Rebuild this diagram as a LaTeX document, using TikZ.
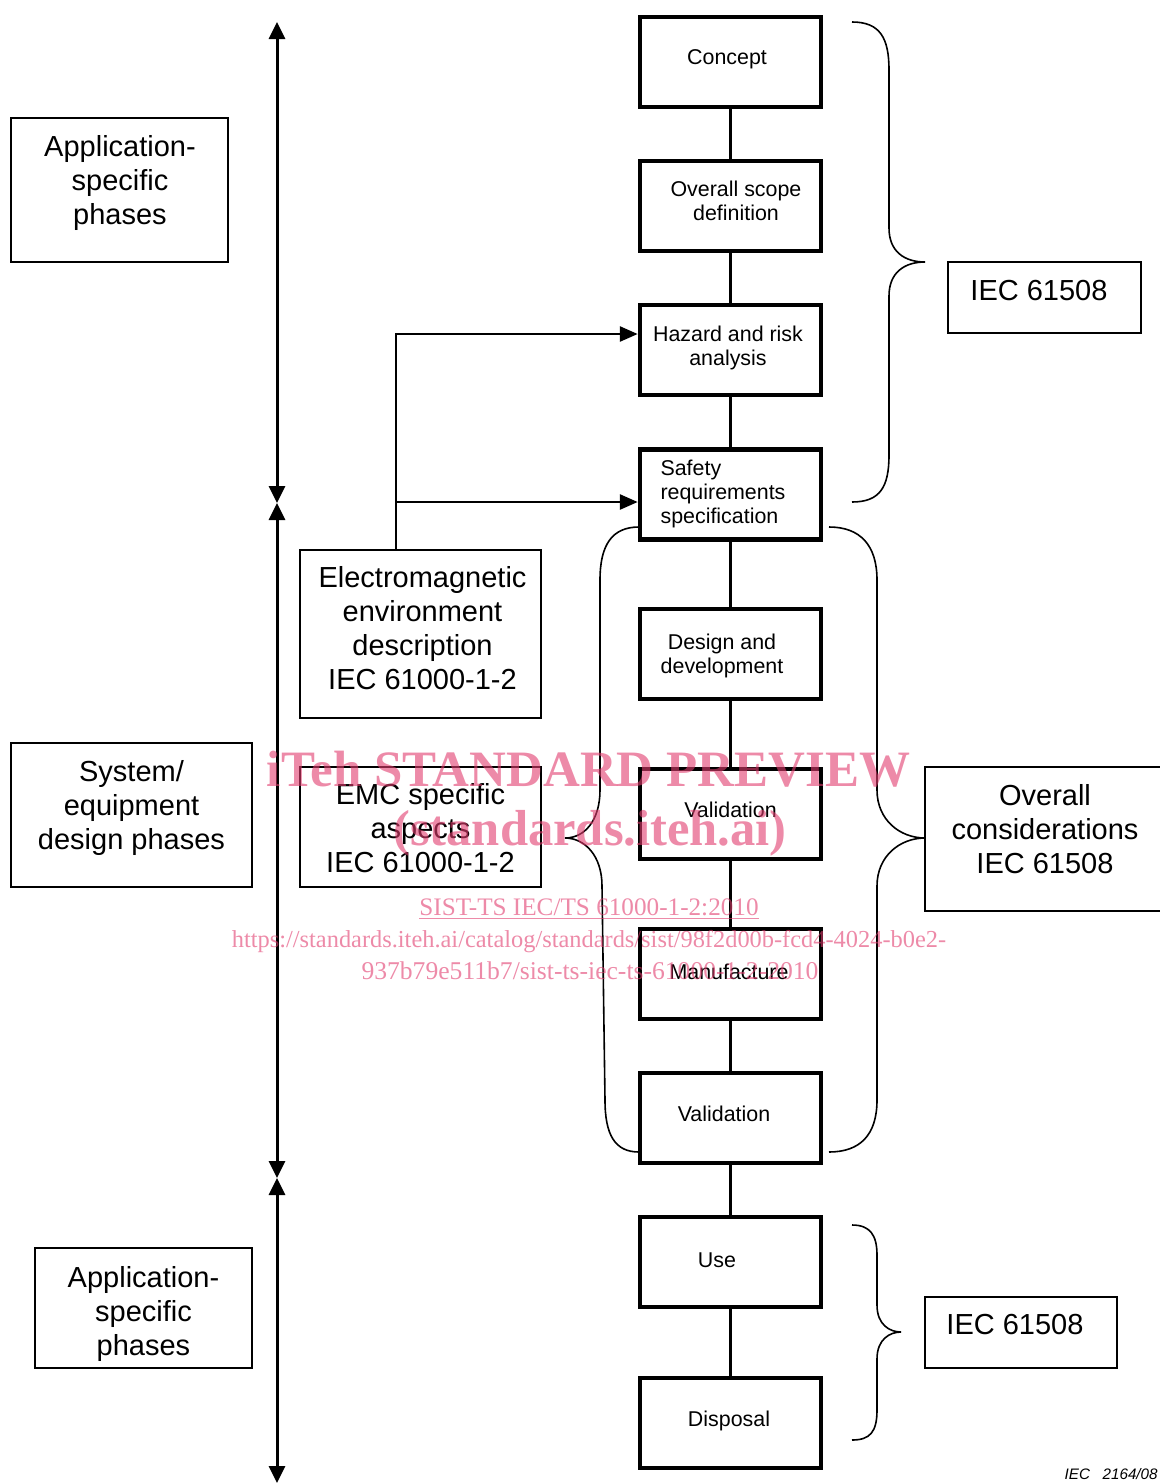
\documentclass[tikz,border=0pt]{standalone}
\usepackage{fontspec}
\setmainfont{Liberation Sans}
\newfontfamily\wmfont{Liberation Serif}
\usetikzlibrary{arrows.meta,calc}
\definecolor{wmpink}{RGB}{225,60,110}
\begin{document}
\begin{tikzpicture}[x=0.5pt,y=-0.5pt,
  phasebox/.style={draw, line width=2.25pt, minimum width=90.5pt, minimum height=45pt, inner sep=0pt},
  ptext/.style={inner sep=0pt, align=center, font=\fontsize{10.7}{12}\selectfont},
  infobox/.style={draw, line width=0.7pt, inner sep=0pt},
  itext/.style={inner sep=0pt, align=center, font=\fontsize{14.5}{17}\selectfont},
  link/.style={line width=1.1pt},
  axis/.style={line width=1.5pt, {Triangle[length=8.5pt,width=8pt]}-{Triangle[length=8.5pt,width=8pt]}},
  feed/.style={line width=1.4pt, -{Triangle[length=9pt,width=7.5pt]}},
  brace/.style={line width=0.8pt},
  wm/.style={text=wmpink, text opacity=0.6, inner sep=0pt, anchor=base}
]
\useasboundingbox (0,0) rectangle (1160,1483);

% left axis
\coordinate (t1) at (277,22);
\coordinate (t2) at (277,503);
\coordinate (t3) at (277,1178);
\coordinate (t4) at (277,1483);
\draw[axis] (t2) -- (t1);
\draw[axis] (t2) -- (t3);
\draw[axis] (t3) -- (t4);

% phase boxes
\node[phasebox] (concept) at (730.5,62) {};
\node[phasebox] (scope) at (730.5,206) {};
\node[phasebox] (hazard) at (730.5,350) {};
\node[phasebox] (safety) at (730.5,494.5) {};
\node[phasebox] (design) at (730.5,654) {};
\node[phasebox] (valid1) at (730.5,814) {};
\node[phasebox] (manuf) at (730.5,974) {};
\node[phasebox] (valid2) at (730.5,1118) {};
\node[phasebox] (use) at (730.5,1262) {};
\node[phasebox] (disposal) at (730.5,1423) {};

\node[ptext] (conceptt) at (727,59) {Concept};
\node[ptext] (scopet) at (736,201) {Overall scope\\definition};
\node[ptext] (hazardt) at (728,348) {Hazard and risk\\analysis};
\node[ptext, align=left] (safetyt) at (723,493.5) {Safety\\requirements\\specification};
\node[ptext] (designt) at (722,656) {Design and\\development};
\node[ptext] (valid1t) at (730.5,810) {Validation};
\node[ptext] (manuft) at (729,972) {Manufacture};
\node[ptext] (valid2t) at (724,1114) {Validation};
\node[ptext] (uset) at (717,1260) {Use};
\node[ptext] (disposalt) at (729,1421) {Disposal};

\draw[link] (concept) -- (scope);
\draw[link] (scope) -- (hazard);
\draw[link] (hazard) -- (safety);
\draw[link] (safety) -- (design);
\draw[link] (design) -- (valid1);
\draw[link] (valid1) -- (manuf);
\draw[link] (manuf) -- (valid2);
\draw[link] (valid2) -- (use);
\draw[link] (use) -- (disposal);

% left boxes
\node[infobox, minimum width=108.5pt, minimum height=72pt] (app1) at (119.5,190) {};
\node[itext] (app1t) at (120,183) {Application-\\specific\\phases};
\node[infobox, minimum width=120.5pt, minimum height=72pt] (sys) at (131.5,815) {};
\node[itext] (syst) at (131.5,808) {System/\\equipment\\design phases};
\node[infobox, minimum width=108.5pt, minimum height=60pt] (app2) at (143.5,1308) {};
\node[itext] (app2t) at (143.5,1314) {Application-\\specific\\phases};

% EM boxes
\node[infobox, minimum width=120.5pt, minimum height=84pt] (em) at (420.5,634) {};
\node[itext] (emt) at (422.5,628) {Electromagnetic\\environment\\description\\IEC 61000-1-2};
\node[infobox, minimum width=120.5pt, minimum height=60pt] (emc) at (420.5,827) {};
\node[itext] (emct) at (420.5,828) {EMC specific\\aspects\\IEC 61000-1-2};

\coordinate (emtop) at (396,550);
\coordinate (br) at (396,502);
\draw[feed] (emtop) |- ([yshift=8pt]hazard.west);
\draw[feed] (br) -- (br -| safety.west);

% right boxes
\node[infobox, minimum width=96.5pt, minimum height=35.5pt] (iec1) at (1044.5,297.5) {};
\node[itext] (iec1t) at (1039,290.5) {IEC 61508};
\node[infobox, minimum width=120pt, minimum height=72pt] (overall) at (1045,839) {};
\node[itext] (overallt) at (1045,829) {Overall\\considerations\\IEC 61508};
\node[infobox, minimum width=96pt, minimum height=35.5pt] (iec2) at (1021,1332.5) {};
\node[itext] (iec2t) at (1015,1324.5) {IEC 61508};

% braces
\draw[brace] (852,22) .. controls (880,22) and (889,38) .. (889,70) -- (889,228) .. controls (889,252) and (905,262) .. (925,262) .. controls (905,262) and (889,272) .. (889,296) -- (889,455) .. controls (889,487) and (880,502) .. (852,502);
\draw[brace] (829,527) .. controls (860,527) and (877,545) .. (877,580) -- (877,790) .. controls (877,820) and (900,838) .. (925,838) .. controls (900,838) and (877,856) .. (877,886) -- (877,1100) .. controls (877,1135) and (860,1152) .. (829,1152);
\draw[brace] (639,527) .. controls (612,527) and (600,545) .. (600,580) -- (600,790) .. controls (600,820) and (585,838) .. (565,838) .. controls (585,838) and (602,856) .. (602,886) -- (605,1100) .. controls (605,1135) and (615,1152) .. (639,1152);
\draw[brace] (852,1225) .. controls (870,1225) and (877,1235) .. (877,1255) -- (877,1305) .. controls (877,1325) and (890,1332) .. (901,1332) .. controls (890,1332) and (877,1339) .. (877,1359) -- (877,1410) .. controls (877,1432) and (870,1440) .. (852,1440);

% figure id
\node[anchor=base east, inner sep=0pt, font=\fontsize{7.6}{9}\selectfont\itshape] (figid) at (1158,1479) {IEC\ \ \ 2164/08};

% watermark
\node[wm, font=\wmfont\bfseries\fontsize{25.5}{28}\selectfont] (wm1) at (588.5,786) {iTeh STANDARD PREVIEW};
\node[wm, font=\wmfont\bfseries\fontsize{25.3}{28}\selectfont] (wm2) at (590,845) {(standards.iteh.ai)};
\node[wm, font=\wmfont\fontsize{12.6}{14}\selectfont] (wm3) at (589,915) {\underline{SIST-TS IEC/TS 61000-1-2:2010}};
\node[wm, font=\wmfont\fontsize{12.2}{14}\selectfont] (wm4) at (589,947) {https://standards.iteh.ai/catalog/standards/sist/98f2d00b-fcd4-4024-b0e2-};
\node[wm, font=\wmfont\fontsize{12.8}{14}\selectfont] (wm5) at (590,979) {937b79e511b7/sist-ts-iec-ts-61000-1-2-2010};
\end{tikzpicture}
\end{document}
